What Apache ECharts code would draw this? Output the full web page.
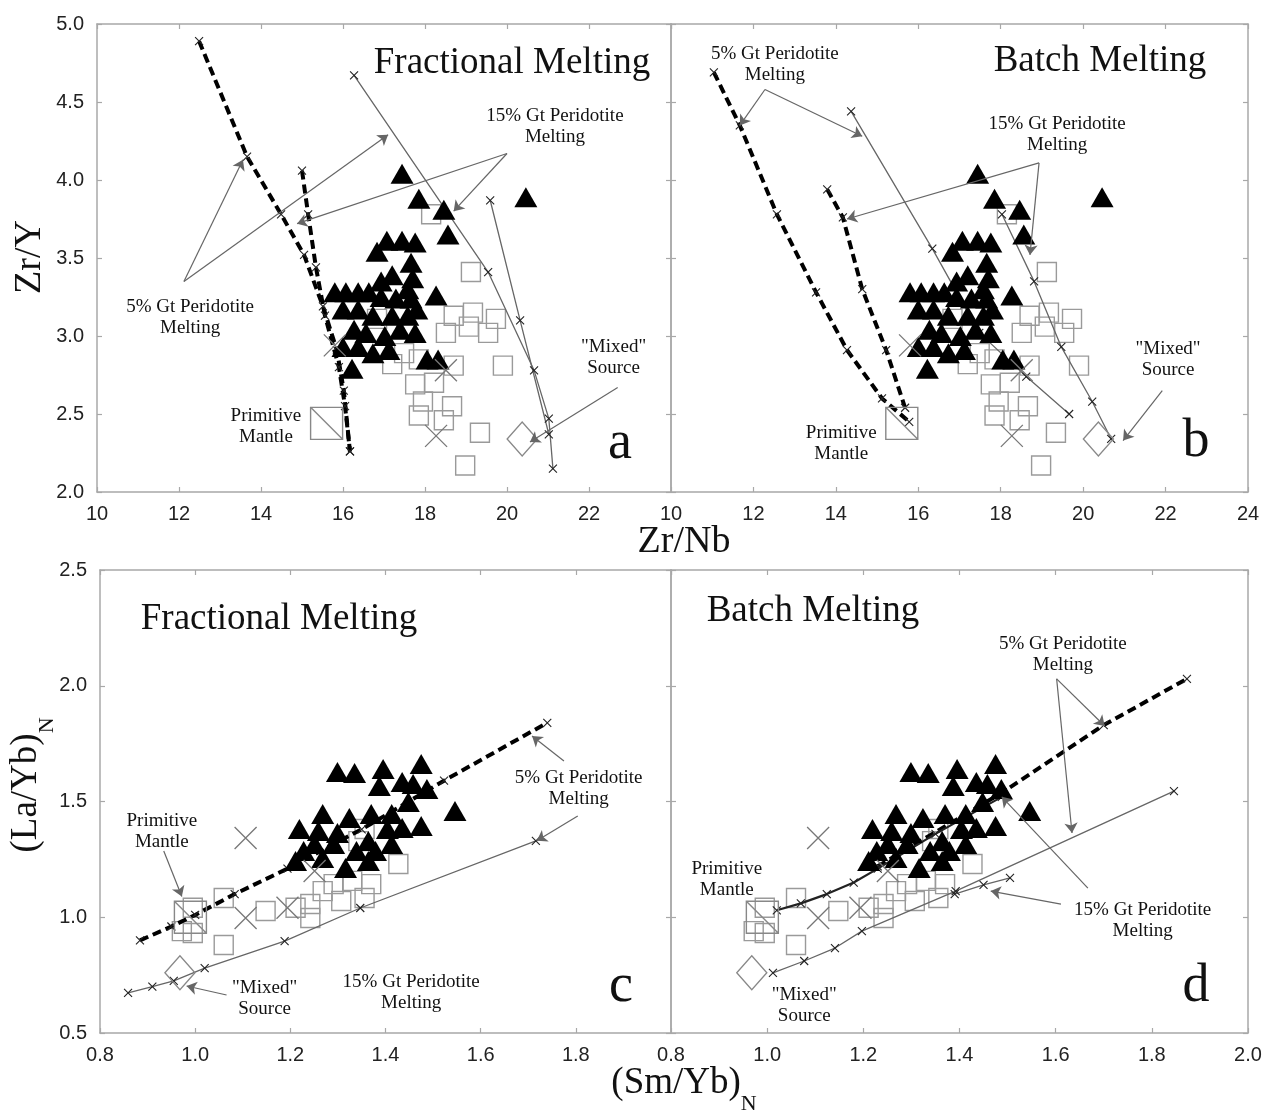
<!DOCTYPE html>
<html>
<head>
<meta charset="utf-8">
<title>Melting models</title>
<script src="https://cdn.jsdelivr.net/npm/echarts/dist/echarts.min.js"></script>
<style>
html, body { margin: 0; padding: 0; background: #fff; }
#chart { width: 1270px; height: 1115px; }
</style>
</head>
<body>
<div id="chart"></div>
<script>
// ---- data: top panels (Zr/Nb vs Zr/Y) ----
var topTriangles = [
    [17.44,4.04],[17.85,3.88],[18.46,3.81],[20.46,3.89],[18.56,3.65],
    [17.07,3.61],[17.44,3.61],[17.76,3.6],[16.83,3.54],[17.66,3.47],
    [17.2,3.39],[17.7,3.37],[18.27,3.26],[17.58,3.3],[15.8,3.28],
    [16.07,3.28],[16.37,3.28],[16.63,3.28],[16.93,3.25],[17.29,3.24],
    [17.66,3.24],[16.0,3.17],[16.37,3.17],[16.73,3.13],[17.2,3.13],
    [17.58,3.13],[16.27,3.04],[16.56,3.02],[17.39,3.04],[17.76,3.02],
    [16.37,2.93],[16.73,2.89],[17.02,3.0],[18.05,2.85],[18.32,2.85],
    [16.22,2.79],[16.0,2.93],[17.12,2.91],[17.8,3.17],[16.93,3.35]
];
var topSquares = [
    [18.15,3.78],[19.12,3.41],[18.7,3.13],[19.17,3.15],[19.73,3.11],
    [19.54,3.02],[18.51,3.02],[17.2,2.82],[17.85,2.85],[18.7,2.81],
    [17.76,2.69],[18.22,2.7],[17.95,2.58],[18.66,2.55],[17.85,2.49],
    [18.46,2.46],[19.34,2.38],[18.98,2.17],[19.9,2.81],[17.49,2.89],
    [16.83,3.11],[19.07,3.06]
];
var topCrosses = [[15.8,2.94],[18.51,2.78],[18.27,2.36]];
var topPrimitive = [[15.6,2.44]];
var topMixed = [[20.37,2.34]];

// model curves, fractional melting (a)
var pm5A = [[12.49,4.89],[13.66,4.15],[14.49,3.78],[15.05,3.52],[15.51,3.19],[15.85,2.91],[16.02,2.65],[16.17,2.26]];
var pm15A = [[15.0,4.06],[15.15,3.78],[15.34,3.44],[15.56,3.13],[15.9,2.8],[16.05,2.55],[16.17,2.26]];
var mix5A = [[16.27,4.67],[19.54,3.41],[20.66,2.78],[21.02,2.47],[21.12,2.15]];
var mix15A = [[19.59,3.87],[20.32,3.1],[21.02,2.37]];
// model curves, batch melting (b)
var pm5B = [[11.04,4.69],[11.67,4.35],[12.57,3.78],[13.52,3.28],[14.27,2.91],[15.12,2.6],[15.78,2.45]];
var pm15B = [[13.79,3.94],[14.17,3.76],[14.64,3.3],[15.22,2.91],[15.68,2.54]];
var mix5B = [[14.37,4.44],[16.34,3.56],[17.48,3.02],[18.62,2.74],[19.66,2.5]];
var mix15B = [[18.03,3.78],[18.81,3.35],[19.47,2.93],[20.22,2.58],[20.68,2.34]];

// ---- data: bottom panels ((Sm/Yb)N vs (La/Yb)N) ----
var botTriangles = [
    [1.299,1.627],[1.335,1.623],[1.395,1.64],[1.475,1.662],[1.435,1.584],
    [1.458,1.576],[1.487,1.554],[1.387,1.567],[1.448,1.498],[1.546,1.459],
    [1.268,1.446],[1.37,1.446],[1.413,1.446],[1.475,1.394],[1.219,1.381],
    [1.259,1.373],[1.299,1.364],[1.404,1.381],[1.435,1.386],[1.364,1.329],
    [1.251,1.316],[1.211,1.243],[1.291,1.316],[1.339,1.286],[1.379,1.286],
    [1.268,1.256],[1.316,1.213],[1.228,1.286],[1.364,1.243],[1.413,1.316],
    [1.324,1.429]
];
var botSquares = [
    [1.356,1.381],[1.343,1.329],[1.427,1.23],[1.06,1.083],[1.148,1.027],
    [0.972,0.94],[0.995,0.932],[1.06,0.88],[1.211,1.041],[1.242,0.997],
    [1.268,1.113],[1.33,1.157],[1.356,1.083],[1.37,1.143],[1.307,1.07],
    [0.995,1.041],[1.242,1.057],[1.291,1.143]
];
var botCrosses = [[1.106,1.342],[1.194,1.041],[1.106,0.997],[1.251,1.2]];
var botPrimitive = [[0.99,1.0]];
var botMixed = [[0.968,0.76]];

// model curves, fractional melting (c)
var pm5C = [[0.884,0.9],[0.95,0.96],[1.0,1.01],[1.083,1.1],[1.194,1.21],[1.35,1.38],[1.523,1.59],[1.74,1.84]];
var mix5C = [[0.859,0.673],[0.91,0.7],[0.955,0.725],[1.02,0.78],[1.188,0.897],[1.347,1.04],[1.716,1.33]];
// model curves, batch melting (d)
var pm5D = [[1.23,1.22],[1.49,1.54],[1.7,1.83],[1.873,2.03]];
var pm15D = [[1.02,1.03],[1.07,1.06],[1.124,1.1],[1.18,1.15],[1.23,1.21],[1.35,1.36],[1.488,1.52]];
var mix5D = [[1.012,0.76],[1.077,0.811],[1.141,0.867],[1.197,0.94],[1.392,1.113],[1.846,1.545]];
var mix15D = [[1.39,1.1],[1.45,1.14],[1.505,1.17]];

// annotation arrows [x1, y1, x2, y2] and labels
var arrowsA = [[12.12,3.35,13.56,4.13],[12.12,3.35,17.1,4.29],[20.0,4.17,14.88,3.72],[20.0,4.17,18.7,3.8],[22.7,2.67,20.56,2.32]];
var arrowsB = [[12.28,4.58,11.67,4.35],[12.28,4.58,14.64,4.28],[18.93,4.11,14.27,3.75],[18.93,4.11,18.71,3.52],[21.92,2.65,20.97,2.33]];
var arrowsC = [[0.934,1.286,0.972,1.09],[1.775,1.675,1.708,1.783],[1.804,1.437,1.718,1.33],[1.066,0.664,0.982,0.703]];
var arrowsD = [[1.602,2.03,1.702,1.826],[1.602,2.03,1.634,1.364],[1.667,1.126,1.488,1.52],[1.611,1.057,1.465,1.113]];

var notesA = [['5% Gt Peridotite\nMelting',12.27,3.12],['15% Gt Peridotite\nMelting',21.17,4.34],['"Mixed"\nSource',22.6,2.86],['Primitive\nMantle',14.12,2.42]];
var notesB = [['5% Gt Peridotite\nMelting',12.52,4.74],['15% Gt Peridotite\nMelting',19.37,4.29],['"Mixed"\nSource',22.06,2.85],['Primitive\nMantle',14.13,2.31]];
var notesC = [['Primitive\nMantle',0.93,1.37],['5% Gt Peridotite\nMelting',1.806,1.554],['"Mixed"\nSource',1.146,0.65],['15% Gt Peridotite\nMelting',1.454,0.673]];
var notesD = [['Primitive\nMantle',0.916,1.165],['"Mixed"\nSource',1.077,0.617],['5% Gt Peridotite\nMelting',1.615,2.137],['15% Gt Peridotite\nMelting',1.781,0.988]];

var SERIF = "'Liberation Serif','DejaVu Serif','Times New Roman',serif";
var SANS = "'Liberation Sans',Arial,Helvetica,sans-serif";
var XSYM = 'path://M0,0L10,10M10,0L0,10';
var PMSYM = 'path://M0,0L10,0L10,10L0,10ZM0,0L10,10';

var chart = echarts.init(document.getElementById('chart'));

var panels = [
    {grid: {left: 97, top: 24, width: 574, height: 468}, x: [10, 24, 2], y: [2, 5, 0.5], yLab: true, hideMax: true, dec: 0},
    {grid: {left: 671, top: 24, width: 577, height: 468}, x: [10, 24, 2], y: [2, 5, 0.5], yLab: false, hideMax: false, dec: 0},
    {grid: {left: 100, top: 570, width: 571, height: 463}, x: [0.8, 2.0, 0.2], y: [0.5, 2.5, 0.5], yLab: true, hideMax: true, dec: 1},
    {grid: {left: 671, top: 570, width: 577, height: 463}, x: [0.8, 2.0, 0.2], y: [0.5, 2.5, 0.5], yLab: false, hideMax: false, dec: 1}
];

var grids = [], xAxes = [], yAxes = [], series = [];
var frameLine = {show: true, onZero: false, lineStyle: {color: '#a8a8a8', width: 1.5}};
var tickIn = {show: true, inside: true, length: 5, lineStyle: {color: '#a8a8a8', width: 1.2}};

panels.forEach(function (p, i) {
    grids.push(p.grid);
    xAxes.push({
        gridIndex: i, type: 'value', position: 'bottom', min: p.x[0], max: p.x[1], interval: p.x[2],
        axisLine: frameLine, axisTick: tickIn, splitLine: {show: false},
        axisLabel: {show: true, showMaxLabel: !p.hideMax, margin: 12, fontFamily: SANS, fontSize: 20, color: '#222',
            formatter: function (v) { return v.toFixed(p.dec); }}
    });
    xAxes.push({
        gridIndex: i, type: 'value', position: 'top', min: p.x[0], max: p.x[1], interval: p.x[2],
        axisLine: frameLine, axisTick: tickIn, splitLine: {show: false}, axisLabel: {show: false}
    });
    yAxes.push({
        gridIndex: i, type: 'value', position: 'left', min: p.y[0], max: p.y[1], interval: p.y[2],
        axisLine: frameLine, axisTick: tickIn, splitLine: {show: false},
        axisLabel: {show: p.yLab, margin: 13, fontFamily: SANS, fontSize: 20, color: '#222',
            formatter: function (v) { return v.toFixed(1); }}
    });
    yAxes.push({
        gridIndex: i, type: 'value', position: 'right', min: p.y[0], max: p.y[1], interval: p.y[2],
        axisLine: frameLine, axisTick: tickIn, splitLine: {show: false}, axisLabel: {show: false}
    });
});

function scatter(gi, data, symbol, size, style, z) {
    style.opacity = 1;
    return {type: 'scatter', xAxisIndex: 2 * gi, yAxisIndex: 2 * gi, data: data, symbol: symbol,
        symbolSize: size, itemStyle: style, z: z, silent: true};
}

function curve(gi, data, kind) {
    var ls;
    if (kind === 'dash') ls = {type: [9, 5], width: 4, color: '#000'};
    else if (kind === 'dark') ls = {width: 2.2, color: '#222'};
    else ls = {width: 1.3, color: '#666'};
    return {type: 'line', xAxisIndex: 2 * gi, yAxisIndex: 2 * gi, data: data, symbol: XSYM,
        symbolSize: 8, showSymbol: true, lineStyle: ls, z: 3, silent: true,
        itemStyle: {color: '#222', borderColor: '#222', borderWidth: 1.1, opacity: 1}};
}

function notes(gi, list, arrows) {
    return {
        type: 'scatter', xAxisIndex: 2 * gi, yAxisIndex: 2 * gi, symbolSize: 1, z: 6, silent: true,
        itemStyle: {color: 'rgba(0,0,0,0)', opacity: 1},
        data: list.map(function (n) { return {name: n[0], value: [n[1], n[2]]}; }),
        label: {show: true, position: 'inside', formatter: function (pr) { return pr.name; },
            fontFamily: SERIF, fontSize: 19, lineHeight: 21, color: '#111', opacity: 1, align: 'center'},
        markLine: {
            silent: true, animation: false, symbol: ['none', 'arrow'], symbolSize: 10,
            label: {show: false},
            lineStyle: {color: '#666', width: 1.2, type: 'solid', opacity: 1},
            data: arrows.map(function (a) { return [{coord: [a[0], a[1]]}, {coord: [a[2], a[3]]}]; })
        }
    };
}

function dataSeries(gi, tri, sq, cr, pm, mx) {
    return [
        scatter(gi, sq, 'rect', 19, {color: 'rgba(255,255,255,0)', borderColor: '#9a9a9a', borderWidth: 1.4}, 2),
        scatter(gi, tri, 'triangle', [23, 20], {color: '#000'}, 4),
        scatter(gi, cr, XSYM, 22, {color: 'rgba(0,0,0,0)', borderColor: '#777', borderWidth: 1.3}, 4),
        scatter(gi, pm, PMSYM, 32, {color: 'rgba(0,0,0,0)', borderColor: '#888', borderWidth: 1.4}, 4),
        scatter(gi, mx, 'diamond', [30, 34], {color: 'rgba(0,0,0,0)', borderColor: '#888', borderWidth: 1.4}, 4)
    ];
}

series = series.concat(
    dataSeries(0, topTriangles, topSquares, topCrosses, topPrimitive, topMixed),
    [curve(0, pm5A, 'dash'), curve(0, pm15A, 'dash'), curve(0, mix5A, 'thin'), curve(0, mix15A, 'thin'), notes(0, notesA, arrowsA)],
    dataSeries(1, topTriangles, topSquares, topCrosses, topPrimitive, topMixed),
    [curve(1, pm5B, 'dash'), curve(1, pm15B, 'dash'), curve(1, mix5B, 'thin'), curve(1, mix15B, 'thin'), notes(1, notesB, arrowsB)],
    dataSeries(2, botTriangles, botSquares, botCrosses, botPrimitive, botMixed),
    [curve(2, pm5C, 'dash'), curve(2, mix5C, 'thin'), notes(2, notesC, arrowsC)],
    dataSeries(3, botTriangles, botSquares, botCrosses, botPrimitive, botMixed),
    [curve(3, pm5D, 'dash'), curve(3, pm15D, 'dark'), curve(3, mix5D, 'thin'), curve(3, mix15D, 'thin'), notes(3, notesD, arrowsD)]
);

function txt(t, x, y, size, rot) {
    return {type: 'text', x: x, y: y, rotation: rot || 0, silent: true, z: 10,
        style: {text: t, fontFamily: SERIF, fontSize: size, fill: '#111',
            align: 'center', verticalAlign: 'middle', textAlign: 'center', textVerticalAlign: 'middle'}};
}
function subTxt(main, sub, x, y, rot) {
    return {type: 'text', x: x, y: y, rotation: rot || 0, silent: true, z: 10,
        style: {text: '{m|' + main + '}{s|' + sub + '}', fill: '#111',
            align: 'center', verticalAlign: 'middle', textAlign: 'center', textVerticalAlign: 'middle',
            rich: {
                m: {fontFamily: SERIF, fontSize: 37, lineHeight: 42, verticalAlign: 'top', fill: '#111'},
                s: {fontFamily: SERIF, fontSize: 22, lineHeight: 78, verticalAlign: 'middle', fill: '#111'}
            }}};
}

var graphics = [
    txt('Fractional Melting', 512, 63, 37),
    txt('Batch Melting', 1100, 61, 37),
    txt('Fractional Melting', 279, 619, 37),
    txt('Batch Melting', 813, 611, 37),
    txt('a', 620, 444, 54),
    txt('b', 1196, 442, 54),
    txt('c', 621, 987, 54),
    txt('d', 1196, 987, 54),
    txt('Zr/Y', 30, 257, 38, Math.PI / 2),
    txt('Zr/Nb', 684, 542, 38),
    subTxt('(La/Yb)', 'N', 47, 785, Math.PI / 2),
    subTxt('(Sm/Yb)', 'N', 684, 1104, 0)
];

chart.setOption({
    animation: false,
    backgroundColor: '#fff',
    grid: grids,
    xAxis: xAxes,
    yAxis: yAxes,
    series: series,
    graphic: graphics
});
</script>
</body>
</html>
